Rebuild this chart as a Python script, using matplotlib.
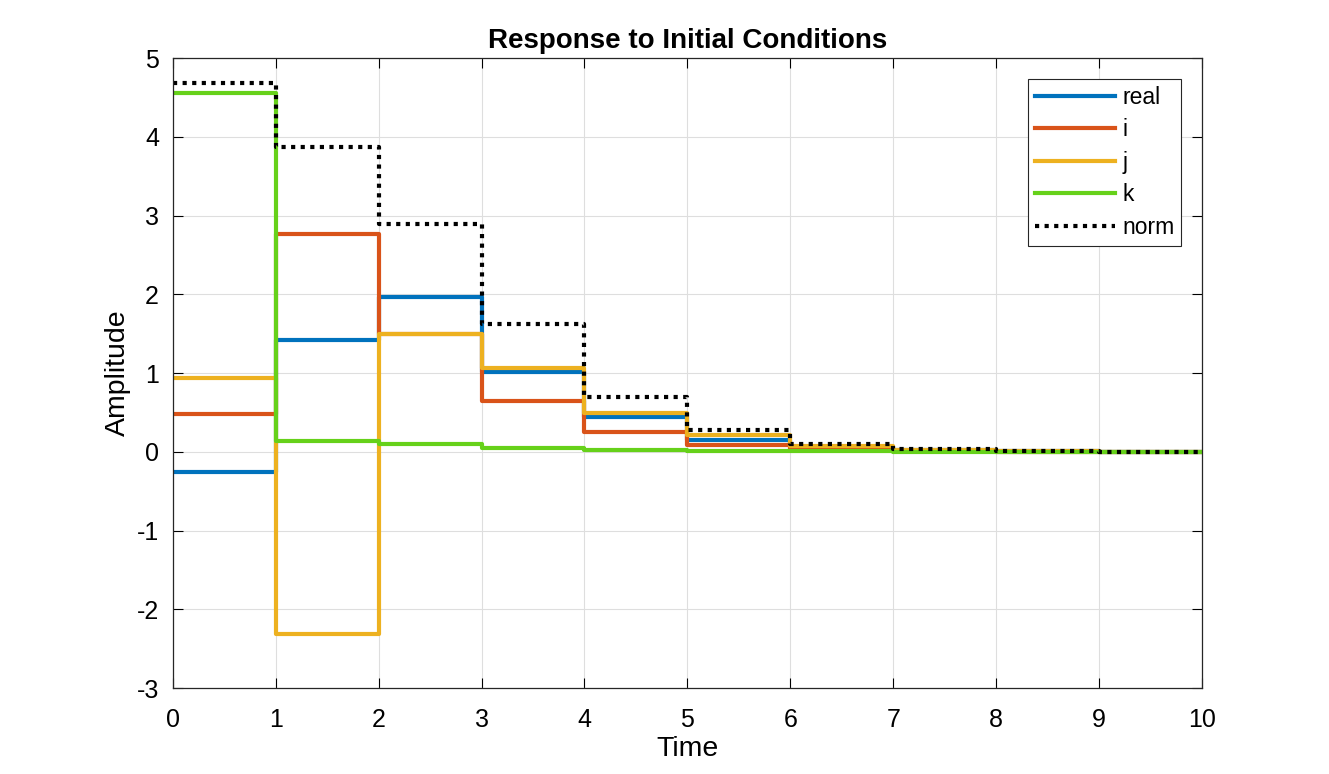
import matplotlib
matplotlib.use("Agg")
import matplotlib.pyplot as plt
import numpy as np

plt.rcParams['font.family'] = ['Liberation Sans', 'DejaVu Sans']
plt.rcParams['axes.unicode_minus'] = False

time = [0, 1, 2, 3, 4, 5, 6, 7, 8, 9, 10]
real = [-0.25, 1.42, 1.96, 1.01, 0.44, 0.15, 0.055, 0.02, 0.007, 0.0025, 0.0025]
i_vals = [0.48, 2.76, 1.50, 0.65, 0.25, 0.09, 0.03, 0.012, 0.004, 0.0015, 0.0015]
j_vals = [0.935, -2.31, 1.49, 1.06, 0.49, 0.21, 0.075, 0.027, 0.009, 0.003, 0.003]
k_vals = [4.55, 0.14, 0.10, 0.05, 0.02, 0.01, 0.005, 0.002, 0.001, 0.0005, 0.0005]
norm_vals = [4.68, 3.87, 2.89, 1.625, 0.70, 0.275, 0.10, 0.035, 0.012, 0.004, 0.004]

labels = ['real', 'i', 'j', 'k', 'norm']
colors = ['#0072BD', '#D95319', '#EDB120', '#66D11A']

fig = plt.figure(figsize=(13.29, 7.74), dpi=100)
ax = fig.add_axes([0.130, 0.111, 0.7745, 0.814])

lw = 3.0
for vals, c, lab in zip([real, i_vals, j_vals, k_vals], colors, labels[:4]):
    ax.step(time, vals, where='post', color=c, lw=lw, label=lab)
ax.step(time, norm_vals, where='post', color='black', lw=3.0,
        linestyle=(0, (1, 1.3)), dash_capstyle='butt', label='norm')

ax.set_xlim(0, 10)
ax.set_ylim(-3, 5)
ax.set_xticks(range(0, 11))
ax.set_yticks(range(-3, 6))
ax.grid(True, color='#DEDEDE', lw=0.8)
ax.set_axisbelow(True)
ax.tick_params(direction='in', top=True, right=True, labelsize=18, length=7, width=0.8)
ax.tick_params(axis='x', pad=14)
ax.tick_params(axis='y', pad=10)
for s in ax.spines.values():
    s.set_linewidth(0.9)
    s.set_color('#262626')

ax.set_title('Response to Initial Conditions', fontsize=20, fontweight='bold', pad=7)
ax.set_xlabel('Time', fontsize=20.5, labelpad=3)
ax.set_ylabel('Amplitude', fontsize=20.5, labelpad=4)

leg = ax.legend(loc='upper right', bbox_to_anchor=(1, 1), borderaxespad=0.9, fontsize=16.5,
                fancybox=False, framealpha=1, edgecolor='#262626',
                handlelength=3.5, handletextpad=0.3, borderpad=0.3, labelspacing=0.42)
leg.get_frame().set_linewidth(0.8)

fig.savefig('out.png', dpi=100, facecolor='white')
